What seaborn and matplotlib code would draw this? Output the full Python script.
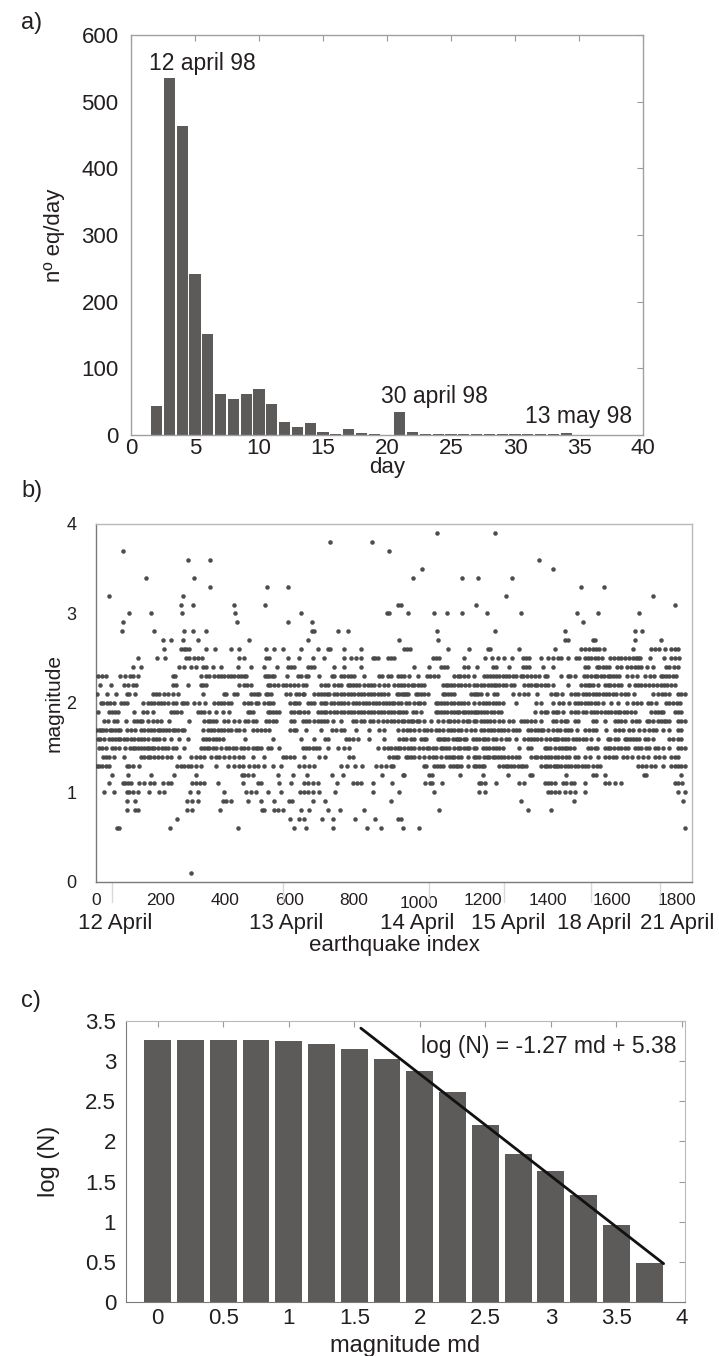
import matplotlib
matplotlib.use("Agg")
import matplotlib.pyplot as plt
import matplotlib.transforms as mtransforms
from matplotlib import font_manager
from matplotlib.ticker import MultipleLocator, FuncFormatter
import numpy as np
import pandas as pd
import seaborn as sns

# ---------------------------------------------------------------- panel a
days = [2, 3, 4, 5, 6, 7, 8, 9, 10, 11, 12, 13, 14, 15, 16, 17, 18, 19, 20,
        21, 22, 23, 24, 25, 26, 27, 28, 29, 30, 31, 32, 33, 34]
eq_per_day = [43, 536, 464, 241, 152, 61, 54, 62, 69, 46, 20, 12, 18, 4, 2, 9, 3, 2, 0,
              35, 5, 1, 1, 2, 1, 1, 1, 1, 2, 1, 1, 1, 3]
event_labels = ["12 april 98", "30 april 98", "13 may 98"]
event_x = [5.6, 23.7, 35.0]
event_y = [547, 48, 18]

# ---------------------------------------------------------------- panel b
# earthquake indices recorded at each magnitude (md, 0.1 steps)
at_3_9 = [1057, 1238]
at_3_8 = [726, 855]
at_3_7 = [83, 907]
at_3_6 = [284, 353, 1374]
at_3_5 = [1011, 1416]
at_3_4 = [156, 305, 982, 1134, 1185, 1290]
at_3_3 = [353, 530, 596, 1503, 1573]
at_3_2 = [41, 271, 1270, 1727]
at_3_1 = [264, 302, 429, 525, 935, 946, 1178, 1795]
at_3_0 = [102, 169, 267, 432, 635, 902, 908, 966, 1049, 1088, 1135, 1212, 1316, 1490, 1555, 1682]
at_2_9 = [85, 436, 596, 668, 1510]
at_2_8 = [80, 181, 274, 302, 341, 669, 675, 749, 780, 1057, 1237, 1454, 1669, 1692]
at_2_7 = [207, 232, 271, 315, 475, 656, 938, 1061, 1454, 1464, 1540, 1547, 1671, 1750]
at_2_6 = [212, 264, 272, 280, 288, 341, 370, 419, 444, 527, 553, 579, 635, 687, 718, 726, 768,
          820, 956, 964, 974, 1090, 1157, 1214, 1222, 1312, 1423, 1503, 1514, 1529, 1540, 1550,
          1560, 1574, 1664, 1721, 1733, 1746, 1762, 1783, 1793, 1803]
at_2_5 = [131, 190, 214, 280, 289, 303, 315, 328, 444, 458, 527, 537, 594, 628, 672, 706, 770,
          789, 806, 822, 858, 865, 873, 904, 913, 925, 1044, 1054, 1064, 1140, 1206, 1227, 1245,
          1266, 1289, 1323, 1333, 1343, 1380, 1400, 1416, 1431, 1441, 1462, 1488, 1498, 1514,
          1524, 1534, 1545, 1555, 1568, 1594, 1605, 1617, 1627, 1640, 1653, 1664, 1674, 1681,
          1687, 1718, 1760, 1783, 1795, 1808]
at_2_4 = [114, 141, 258, 274, 295, 310, 331, 341, 362, 388, 441, 480, 520, 561, 594, 604, 615,
          658, 666, 677, 739, 770, 822, 987, 1033, 1069, 1080, 1088, 1142, 1152, 1181, 1230,
          1240, 1281, 1323, 1333, 1343, 1385, 1416, 1514, 1524, 1553, 1560, 1571, 1581, 1591,
          1615, 1627, 1646, 1659, 1669, 1679, 1690, 1708, 1726, 1767, 1777, 1791, 1803]
at_2_3 = [7, 18, 31, 74, 91, 106, 114, 129, 238, 245, 326, 341, 351, 365, 377, 388, 398, 408,
          419, 429, 439, 450, 458, 465, 524, 530, 537, 546, 553, 592, 627, 635, 651, 658, 692,
          731, 739, 760, 770, 780, 791, 801, 832, 878, 886, 904, 915, 935, 945, 954, 971, 999,
          1026, 1036, 1049, 1059, 1111, 1121, 1129, 1140, 1152, 1171, 1202, 1212, 1222, 1230,
          1240, 1250, 1261, 1271, 1281, 1292, 1302, 1316, 1323, 1336, 1347, 1359, 1374, 1390,
          1398, 1441, 1462, 1470, 1485, 1512, 1522, 1534, 1545, 1553, 1565, 1574, 1586, 1594,
          1602, 1612, 1622, 1646, 1661, 1677, 1700, 1718, 1729, 1750, 1757, 1767, 1777, 1788, 1798]
at_2_2 = [12, 46, 88, 98, 114, 124, 238, 248, 284, 326, 331, 341, 444, 460, 468, 480, 532, 540,
          553, 563, 579, 589, 602, 613, 625, 641, 651, 697, 710, 720, 739, 749, 760, 780, 788,
          796, 806, 816, 830, 842, 853, 863, 878, 894, 904, 925, 935, 945, 956, 966, 978, 987,
          999, 1007, 1018, 1075, 1085, 1090, 1100, 1111, 1121, 1132, 1144, 1157, 1171, 1181,
          1194, 1204, 1214, 1225, 1233, 1240, 1250, 1261, 1271, 1287, 1295, 1328, 1338, 1349,
          1359, 1367, 1378, 1390, 1400, 1416, 1462, 1503, 1514, 1524, 1532, 1540, 1555, 1576,
          1586, 1594, 1605, 1617, 1627, 1653, 1669, 1679, 1690, 1700, 1715, 1726, 1739, 1750,
          1760, 1770, 1781, 1793]
at_2_1 = [3, 34, 62, 95, 103, 122, 176, 186, 196, 210, 224, 238, 253, 331, 396, 403, 429, 436,
          480, 490, 499, 506, 527, 532, 542, 589, 600, 620, 630, 641, 646, 677, 687, 697, 708,
          716, 723, 739, 747, 760, 770, 780, 791, 801, 811, 822, 832, 842, 853, 863, 873, 884,
          894, 904, 933, 940, 947, 956, 961, 968, 992, 999, 1007, 1018, 1028, 1075, 1082, 1092,
          1100, 1109, 1162, 1171, 1178, 1183, 1194, 1212, 1233, 1243, 1292, 1312, 1328, 1338,
          1367, 1410, 1421, 1429, 1443, 1472, 1483, 1493, 1509, 1519, 1529, 1540, 1550, 1560,
          1570, 1581, 1591, 1602, 1612, 1627, 1638, 1648, 1667, 1726, 1741, 1754, 1764, 1777,
          1803, 1813, 1824]
at_2_0 = [15, 22, 34, 44, 55, 77, 88, 96, 145, 160, 170, 181, 191, 201, 212, 222, 238, 248, 267,
          274, 282, 305, 320, 338, 367, 377, 388, 398, 408, 419, 460, 470, 480, 496, 503, 522,
          532, 540, 548, 600, 615, 620, 630, 656, 666, 677, 697, 706, 713, 728, 739, 749, 760,
          770, 780, 796, 806, 816, 827, 837, 847, 858, 868, 878, 889, 899, 909, 917, 925, 935,
          945, 961, 971, 987, 997, 1005, 1016, 1054, 1061, 1069, 1078, 1088, 1100, 1109, 1121,
          1132, 1142, 1152, 1173, 1188, 1199, 1209, 1219, 1230, 1240, 1250, 1261, 1302, 1364,
          1378, 1416, 1436, 1447, 1467, 1483, 1493, 1503, 1514, 1524, 1534, 1545, 1555, 1570,
          1596, 1617, 1646, 1664, 1677, 1690, 1710, 1721, 1736, 1767, 1777, 1788, 1801, 1811]
at_1_9 = [5, 41, 49, 59, 69, 119, 145, 158, 176, 232, 241, 251, 264, 315, 326, 336, 351, 372,
          393, 413, 470, 478, 486, 532, 540, 550, 558, 568, 604, 615, 625, 633, 644, 656, 687,
          697, 706, 713, 726, 739, 747, 760, 770, 780, 791, 801, 811, 822, 832, 842, 853, 863,
          873, 884, 894, 904, 913, 925, 935, 943, 951, 961, 982, 992, 1007, 1054, 1059, 1069,
          1080, 1088, 1100, 1109, 1119, 1126, 1137, 1144, 1152, 1162, 1171, 1178, 1185, 1194,
          1204, 1212, 1225, 1235, 1245, 1256, 1359, 1378, 1390, 1398, 1416, 1426, 1431, 1447,
          1472, 1483, 1493, 1509, 1519, 1534, 1543, 1553, 1565, 1576, 1586, 1596, 1607, 1617,
          1625, 1636, 1646, 1659, 1669, 1721, 1731, 1741, 1750, 1757, 1793, 1803, 1813]
at_1_8 = [24, 36, 57, 65, 93, 119, 127, 137, 144, 160, 176, 189, 201, 227, 289, 336, 346, 354,
          362, 372, 398, 408, 429, 444, 462, 470, 486, 496, 527, 537, 548, 558, 604, 615, 641,
          651, 661, 675, 687, 697, 706, 716, 734, 760, 796, 806, 820, 832, 848, 858, 873, 889,
          902, 913, 923, 935, 947, 956, 966, 976, 984, 994, 1002, 1016, 1038, 1059, 1075, 1090,
          1098, 1111, 1121, 1137, 1150, 1157, 1171, 1178, 1194, 1204, 1212, 1222, 1235, 1250,
          1261, 1281, 1292, 1318, 1326, 1336, 1347, 1359, 1378, 1416, 1426, 1441, 1452, 1460,
          1483, 1493, 1540, 1550, 1576, 1607, 1617, 1627, 1638, 1661, 1674, 1684, 1708, 1715,
          1726, 1741, 1750, 1760, 1767, 1777, 1803, 1813, 1824]
at_1_7 = [1, 8, 15, 22, 31, 44, 51, 60, 67, 75, 96, 108, 122, 139, 150, 162, 170, 181, 191, 199,
          207, 217, 227, 238, 245, 253, 266, 274, 331, 346, 357, 367, 377, 388, 398, 408, 419,
          434, 444, 460, 486, 499, 511, 524, 537, 602, 613, 620, 651, 697, 732, 744, 760, 770,
          806, 847, 878, 894, 935, 951, 964, 974, 985, 1002, 1016, 1026, 1038, 1054, 1064, 1075,
          1090, 1100, 1111, 1121, 1132, 1147, 1162, 1175, 1194, 1204, 1214, 1225, 1235, 1245,
          1256, 1266, 1278, 1292, 1302, 1312, 1338, 1349, 1359, 1369, 1378, 1385, 1400, 1416,
          1429, 1439, 1452, 1462, 1472, 1491, 1514, 1529, 1540, 1550, 1581, 1607, 1622, 1633,
          1653, 1664, 1684, 1698, 1715, 1726, 1736, 1757, 1777, 1803, 1813]
at_1_6 = [5, 13, 24, 41, 51, 60, 67, 75, 86, 96, 108, 119, 131, 139, 148, 160, 176, 186, 196,
          210, 232, 258, 284, 331, 341, 351, 362, 372, 382, 393, 462, 548, 635, 675, 710, 718,
          775, 785, 796, 811, 847, 894, 940, 951, 961, 976, 987, 1007, 1016, 1023, 1059, 1067,
          1075, 1082, 1090, 1106, 1116, 1123, 1129, 1140, 1147, 1168, 1178, 1188, 1199, 1206,
          1214, 1230, 1240, 1256, 1271, 1281, 1302, 1328, 1338, 1347, 1357, 1367, 1378, 1395,
          1408, 1419, 1426, 1433, 1443, 1452, 1462, 1478, 1488, 1498, 1509, 1519, 1534, 1555,
          1586, 1594, 1607, 1617, 1638, 1646, 1656, 1664, 1674, 1684, 1700, 1710, 1726, 1777,
          1788, 1803, 1813]
at_1_5 = [10, 20, 31, 51, 60, 72, 90, 106, 114, 122, 129, 139, 150, 158, 165, 173, 181, 193,
          204, 214, 222, 240, 248, 274, 326, 336, 345, 351, 362, 372, 388, 403, 413, 424, 434,
          448, 460, 470, 486, 496, 503, 511, 532, 542, 568, 641, 651, 661, 672, 682, 692, 718,
          749, 770, 785, 873, 894, 904, 915, 927, 935, 943, 954, 966, 976, 987, 1002, 1013,
          1026, 1033, 1044, 1054, 1069, 1075, 1085, 1095, 1111, 1121, 1129, 1140, 1150, 1157,
          1171, 1178, 1199, 1209, 1219, 1230, 1240, 1250, 1261, 1312, 1338, 1349, 1390, 1398,
          1408, 1421, 1436, 1443, 1452, 1460, 1470, 1481, 1524, 1534, 1545, 1553, 1576, 1586,
          1594, 1605, 1617, 1627, 1640, 1648, 1669, 1679, 1690, 1705, 1715, 1731, 1741, 1757,
          1777, 1803, 1813, 1824]
at_1_4 = [21, 31, 39, 57, 88, 139, 150, 160, 168, 181, 191, 204, 220, 232, 258, 295, 310, 323,
          336, 357, 372, 382, 398, 413, 429, 444, 455, 486, 522, 579, 589, 602, 615, 646, 692,
          710, 785, 796, 909, 920, 930, 937, 961, 968, 976, 987, 1002, 1018, 1033, 1044, 1054,
          1069, 1085, 1095, 1103, 1111, 1121, 1132, 1152, 1171, 1178, 1188, 1204, 1212, 1219,
          1230, 1237, 1245, 1256, 1266, 1276, 1289, 1302, 1312, 1349, 1359, 1367, 1378, 1392,
          1400, 1410, 1421, 1431, 1443, 1457, 1467, 1485, 1493, 1514, 1532, 1555, 1576, 1591,
          1602, 1612, 1633, 1646, 1661, 1679, 1695, 1710, 1731, 1746, 1760, 1783, 1793, 1803]
at_1_3 = [3, 10, 20, 31, 39, 96, 103, 114, 134, 251, 264, 274, 284, 295, 310, 326, 372, 408,
          429, 444, 455, 475, 489, 503, 522, 548, 573, 630, 646, 661, 677, 760, 778, 803, 824,
          868, 882, 899, 915, 920, 1016, 1023, 1049, 1057, 1067, 1075, 1098, 1106, 1116, 1123,
          1132, 1152, 1171, 1178, 1188, 1196, 1202, 1250, 1261, 1271, 1278, 1287, 1297, 1307,
          1316, 1323, 1333, 1378, 1390, 1398, 1408, 1419, 1426, 1433, 1441, 1452, 1464, 1472,
          1485, 1493, 1505, 1514, 1524, 1540, 1553, 1563, 1679, 1692, 1705, 1721, 1731, 1757,
          1783, 1793, 1803, 1813, 1824]
at_1_2 = [51, 98, 170, 241, 310, 452, 460, 472, 486, 565, 610, 654, 732, 765, 886, 950, 955,
          1032, 1042, 1129, 1199, 1278, 1346, 1352, 1457, 1540, 1550, 1576, 1698, 1705, 1813]
at_1_1 = [41, 83, 90, 100, 110, 134, 150, 168, 181, 207, 222, 232, 297, 310, 323, 336, 377,
          455, 501, 511, 568, 604, 646, 658, 672, 687, 747, 796, 809, 822, 858, 917, 1020, 1036,
          1042, 1071, 1188, 1194, 1207, 1241, 1312, 1328, 1390, 1400, 1410, 1421, 1447, 1457,
          1472, 1481, 1514, 1576, 1591, 1610, 1627, 1793, 1803, 1816]
at_1_0 = [26, 57, 96, 103, 114, 129, 165, 196, 212, 292, 315, 398, 465, 480, 496, 532, 573,
          633, 646, 658, 672, 690, 741, 858, 940, 1046, 1188, 1207, 1400, 1410, 1421, 1436,
          1452, 1470, 1483, 1514, 1803, 1824]
at_0_9 = [95, 121, 283, 299, 315, 393, 403, 419, 472, 511, 551, 599, 607, 672, 710, 914, 1318,
          1481, 1820]
at_0_8 = [96, 121, 131, 283, 297, 385, 514, 522, 551, 563, 579, 635, 661, 720, 757, 832, 1062,
          1338, 1411]
at_0_7 = [250, 601, 630, 646, 699, 734, 803, 866, 935, 945]
at_0_6 = [65, 72, 230, 439, 615, 651, 734, 840, 883, 951, 1002, 1826]
at_0_1 = [295]

day_breaks = [49, 579, 1032, 1264, 1535, 1749]
date_labels = ["12 April", "13 April", "14 April", "15 April", "18 April", "21 April"]
date_pos = [60, 591, 994, 1276, 1543, 1800]

# ---------------------------------------------------------------- panel c
md_bins = [0, 0.25, 0.5, 0.75, 1.0, 1.25, 1.5, 1.75, 2.0, 2.25, 2.5, 2.75, 3.0, 3.25, 3.5, 3.75]
log_n = [3.27, 3.27, 3.27, 3.26, 3.25, 3.22, 3.15, 3.03, 2.88, 2.62, 2.20, 1.85, 1.63, 1.33,
         0.96, 0.49]
fit_slope = -1.27
fit_intercept = 5.38
fit_range = [1.55, 3.86]

# ---------------------------------------------------------------- styling
sns.set_style("white")
plt.rcParams["font.family"] = ["Liberation Sans", "DejaVu Sans"]
installed = {f.name for f in font_manager.fontManager.ttflist}
narrow = "Liberation Sans Narrow" if "Liberation Sans Narrow" in installed else "Liberation Sans"

BAR = "#5d5a5a"
TXT = "#231f20"
SPINE_DARK = "#7a7a7a"
SPINE_LIGHT = "#b9b9b9"

fig = plt.figure(figsize=(7.19, 13.56), dpi=100)
ax_a = fig.add_axes([0.1822, 0.6792, 0.7121, 0.2950])
ax_b = fig.add_axes([0.1335, 0.3496, 0.8289, 0.2640])
ax_c = fig.add_axes([0.1752, 0.0398, 0.7775, 0.2072])

# ---- a) daily number of earthquakes
daily = pd.DataFrame({"day": days, "count": eq_per_day})
sns.barplot(data=daily, x="day", y="count", native_scale=True, width=0.88, color=BAR,
            saturation=1, errorbar=None, linewidth=0, ax=ax_a)
ax_a.set_xlim(0, 40)
ax_a.set_ylim(0, 600)
ax_a.xaxis.set_major_locator(MultipleLocator(5))
ax_a.yaxis.set_major_locator(MultipleLocator(100))
ax_a.tick_params(axis="both", direction="in", length=4, width=0.8, color="#9a9a9a",
                 labelsize=16, labelcolor=TXT, top=True, right=True)
ax_a.tick_params(axis="y", pad=9)
ax_a.tick_params(axis="x", pad=2)
for sp in ax_a.spines.values():
    sp.set_color("#a0a0a0")
    sp.set_linewidth(1.0)
ax_a.set_xlabel("day", fontsize=16, color=TXT)
ax_a.xaxis.set_label_coords(0.5, -0.055)
ax_a.xaxis.label.set_va("top")
ax_a.set_ylabel("nº eq/day", fontsize=16, color=TXT)
ax_a.yaxis.set_label_coords(-0.129, 0.5)
for lab, x, y in zip(event_labels, event_x, event_y):
    ax_a.text(x, y, lab, ha="center", va="baseline", fontsize=16.5, color=TXT)

# ---- b) magnitude of each earthquake against its index
levels = {3.9: at_3_9, 3.8: at_3_8, 3.7: at_3_7, 3.6: at_3_6, 3.5: at_3_5, 3.4: at_3_4,
          3.3: at_3_3, 3.2: at_3_2, 3.1: at_3_1, 3.0: at_3_0, 2.9: at_2_9, 2.8: at_2_8,
          2.7: at_2_7, 2.6: at_2_6, 2.5: at_2_5, 2.4: at_2_4, 2.3: at_2_3, 2.2: at_2_2,
          2.1: at_2_1, 2.0: at_2_0, 1.9: at_1_9, 1.8: at_1_8, 1.7: at_1_7, 1.6: at_1_6,
          1.5: at_1_5, 1.4: at_1_4, 1.3: at_1_3, 1.2: at_1_2, 1.1: at_1_1, 1.0: at_1_0,
          0.9: at_0_9, 0.8: at_0_8, 0.7: at_0_7, 0.6: at_0_6, 0.1: at_0_1}
quakes = pd.DataFrame([(i, m) for m, idx in levels.items() for i in idx],
                      columns=["index", "magnitude"])
sns.scatterplot(data=quakes, x="index", y="magnitude", s=8, color="#4d4d4d",
                edgecolor="#3a3a3a", linewidth=0.3, ax=ax_b, zorder=3)
ax_b.set_xlim(0, 1847)
ax_b.set_ylim(0, 4)
ax_b.xaxis.set_major_locator(MultipleLocator(100))
ax_b.xaxis.set_major_formatter(FuncFormatter(lambda v, p: f"{int(v)}" if int(round(v)) % 200 == 0 else ""))
ax_b.yaxis.set_major_locator(MultipleLocator(0.5))
ax_b.yaxis.set_major_formatter(FuncFormatter(lambda v, p: f"{int(v)}" if abs(v - round(v)) < 1e-6 else ""))
ax_b.tick_params(axis="x", direction="out", length=6, width=0.8, color="#8a8a8a",
                 labelsize=12.5, labelcolor=TXT, pad=2)
ax_b.tick_params(axis="y", direction="out", length=11, width=0.8, color="#8a8a8a",
                 labelsize=13, labelcolor=TXT, pad=3)
for lab in ax_b.get_xticklabels() + ax_b.get_yticklabels():
    lab.set_fontfamily([narrow, "DejaVu Sans"])
for lab, v in zip(ax_b.get_xticklabels(), ax_b.get_xticks()):
    if int(round(v)) == 1000:
        lab.set_transform(lab.get_transform() +
                          mtransforms.ScaledTranslation(0, -3 / 100, fig.dpi_scale_trans))
ax_b.spines["left"].set_color(SPINE_DARK)
ax_b.spines["bottom"].set_color(SPINE_DARK)
ax_b.spines["top"].set_color(SPINE_LIGHT)
ax_b.spines["right"].set_color(SPINE_LIGHT)
for sp in ax_b.spines.values():
    sp.set_linewidth(1.0)
blend = mtransforms.blended_transform_factory(ax_b.transData, ax_b.transAxes)
for x in day_breaks:
    ax_b.plot([x, x], [0, -0.056], transform=blend, color="#d9d9d9", lw=1.0, clip_on=False)
for lab, x in zip(date_labels, date_pos):
    ax_b.text(x, -0.088, lab, transform=blend, ha="center", va="top", fontsize=16, color=TXT)
ax_b.set_xlabel("earthquake index", fontsize=16, color=TXT)
ax_b.xaxis.set_label_coords(0.5, -0.148)
ax_b.xaxis.label.set_va("top")
ax_b.set_ylabel("magnitude", fontsize=15, color=TXT)
ax_b.yaxis.set_label_coords(-0.055, 0.5)

# ---- c) cumulative frequency-magnitude distribution
gr = pd.DataFrame({"md": md_bins, "logN": log_n})
sns.barplot(data=gr, x="md", y="logN", native_scale=True, width=0.82, color=BAR,
            saturation=1, errorbar=None, linewidth=0, ax=ax_c)
fit_x = np.array(fit_range)
ax_c.plot(fit_x, fit_slope * fit_x + fit_intercept, color="#111111", lw=2.0, zorder=4)
ax_c.text(3.955, 3.10, f"log (N) = {fit_slope} md + {fit_intercept}", ha="right",
          va="baseline", fontsize=16.5, color=TXT)
ax_c.set_xlim(-0.242, 4.023)
ax_c.set_ylim(0, 3.5)
ax_c.xaxis.set_major_locator(MultipleLocator(0.5))
ax_c.yaxis.set_major_locator(MultipleLocator(0.5))
ax_c.xaxis.set_major_formatter(FuncFormatter(lambda v, p: f"{v:g}"))
ax_c.yaxis.set_major_formatter(FuncFormatter(lambda v, p: f"{v:g}"))
ax_c.tick_params(axis="both", direction="in", length=4, width=0.8, color="#9a9a9a",
                 labelsize=16, labelcolor=TXT, top=True, right=True)
ax_c.tick_params(axis="y", pad=7)
ax_c.tick_params(axis="x", pad=4)
ax_c.spines["left"].set_color(SPINE_DARK)
ax_c.spines["bottom"].set_color(SPINE_DARK)
ax_c.spines["top"].set_color(SPINE_LIGHT)
ax_c.spines["right"].set_color(SPINE_LIGHT)
ax_c.set_xlabel("magnitude md", fontsize=17, color=TXT)
ax_c.xaxis.set_label_coords(0.5, -0.117)
ax_c.xaxis.label.set_va("top")
ax_c.set_ylabel("log (N)", fontsize=17, color=TXT)
ax_c.yaxis.set_label_coords(-0.118, 0.5)

# panel letters
for letter, ytop in (("a)", 12), ("b)", 480), ("c)", 990)):
    fig.text(21 / 719, 1 - ytop / 1356, letter, ha="left", va="top", fontsize=17, color=TXT)

fig.savefig("out.png", dpi=100, facecolor="white")
